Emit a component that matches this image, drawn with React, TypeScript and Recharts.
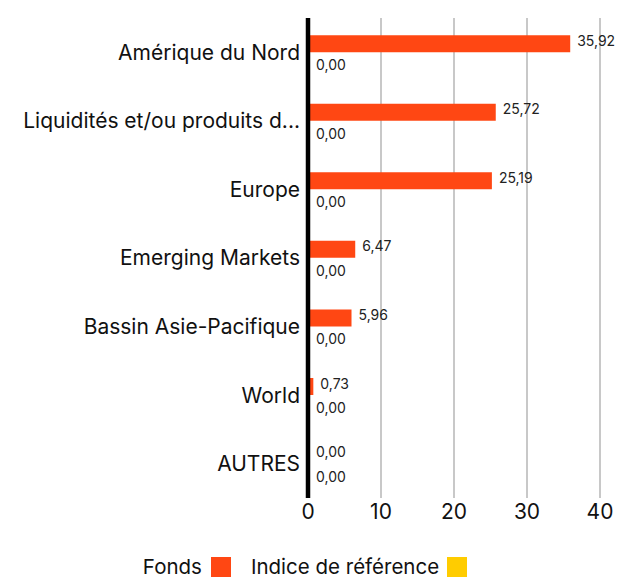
import { BarChart, Bar, XAxis, YAxis, CartesianGrid, LabelList } from 'recharts';

const regions = [
  'Amérique du Nord',
  'Liquidités et/ou produits dérivés',
  'Europe',
  'Emerging Markets',
  'Bassin Asie-Pacifique',
  'World',
  'AUTRES',
];
const fondsValues = [35.92, 25.72, 25.19, 6.47, 5.96, 0.73, 0.0];
const indiceValues = [0.0, 0.0, 0.0, 0.0, 0.0, 0.0, 0.0];
const xTicks = [0, 10, 20, 30, 40];

const FONT = 'Inter, "Noto Sans", sans-serif';
const ORANGE = '#FF4713';
const YELLOW = '#FFCC00';

const data = regions.map((name, i) => ({ name, fonds: fondsValues[i], indice: indiceValues[i] }));

const fmt = (v: number) => v.toFixed(2).replace('.', ',');
const shorten = (s: string) => (s.length > 28 ? s.slice(0, 27) + '...' : s);

function valueLabel(shift: number) {
  return (props: any) => {
    const { x, y, width, height, value } = props;
    return (
      <text
        x={Number(x) + Number(width) + 7}
        y={Number(y) + Number(height) / 2 + shift}
        fontSize={14}
        fill="#222"
        fontFamily={FONT}
        dominantBaseline="central"
      >
        {fmt(Number(value))}
      </text>
    );
  };
}

export default function App() {
  return (
    <div style={{ position: 'absolute', left: 0, top: 0, width: 630, height: 581, fontFamily: FONT }}>
      <BarChart
        width={630}
        height={532}
        data={data}
        layout="vertical"
        margin={{ top: 18, right: 30, bottom: 0, left: 0 }}
        barCategoryGap="25%"
        barGap={0}
      >
        <CartesianGrid horizontal={false} stroke="#c8c8c8" strokeWidth={2} />
        <XAxis
          type="number"
          domain={[0, 40]}
          ticks={xTicks}
          axisLine={false}
          tickLine={false}
          height={34}
          tickMargin={0}
          tick={{ fontSize: 21, fill: '#111', fontFamily: FONT }}
        />
        <YAxis
          type="category"
          dataKey="name"
          width={308}
          axisLine={{ stroke: '#000', strokeWidth: 4.5 }}
          tickLine={false}
          tickMargin={2}
          tickFormatter={shorten}
          tick={{ fontSize: 21, fill: '#111', fontFamily: FONT }}
        />
        <Bar dataKey="fonds" fill={ORANGE} minPointSize={1} isAnimationActive={false}>
          <LabelList dataKey="fonds" content={valueLabel(-3.5)} />
        </Bar>
        <Bar dataKey="indice" fill={YELLOW} minPointSize={1} isAnimationActive={false}>
          <LabelList dataKey="indice" content={valueLabel(4)} />
        </Bar>
      </BarChart>
      <div
        style={{
          position: 'absolute',
          top: 554,
          left: 0,
          width: 610,
          display: 'flex',
          justifyContent: 'center',
          alignItems: 'center',
          fontSize: 20.5,
          color: '#111',
        }}
      >
        <span>Fonds</span>
        <span style={{ display: 'inline-block', width: 20, height: 20, background: ORANGE, marginLeft: 9 }} />
        <span style={{ marginLeft: 20 }}>Indice de référence</span>
        <span style={{ display: 'inline-block', width: 20, height: 20, background: YELLOW, marginLeft: 8 }} />
      </div>
    </div>
  );
}
